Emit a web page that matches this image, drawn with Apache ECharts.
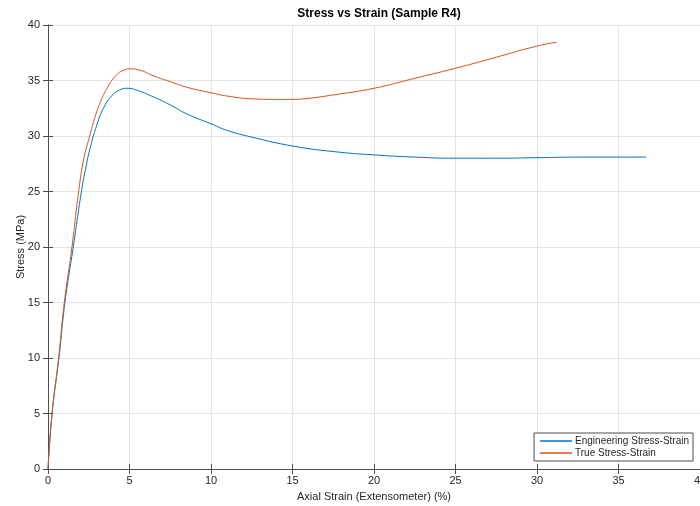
<!DOCTYPE html>
<html>
<head>
<meta charset="utf-8">
<script src="https://cdn.jsdelivr.net/npm/echarts@6/dist/echarts.min.js"></script>
<style>
  html, body { margin: 0; padding: 0; background: #fff; }
  #chart { width: 700px; height: 506px; }
</style>
</head>
<body>
<div id="chart"></div>
<script>
// Engineering stress-strain
const engStrain = [0, 0.25, 0.67, 1.04, 1.55, 2.05, 2.3, 2.6, 3.0, 3.4, 3.9, 4.4, 4.85, 5.5, 6.5, 7.5, 8.5, 10, 11, 12.5, 15, 17.5, 20, 22.5, 25, 27.5, 30, 33, 36.7];
const engStress = [0, 5, 10, 15, 20, 25, 27, 29, 31, 32.5, 33.6, 34.15, 34.3, 34.1, 33.5, 32.8, 32.0, 31.1, 30.5, 29.9, 29.1, 28.6, 28.3, 28.1, 28.0, 28.0, 28.05, 28.1, 28.1];

// True stress-strain
const trueStrain = [0, 0.25, 0.65, 1.0, 1.47, 1.88, 2.2, 2.56, 2.8, 3.2, 3.7, 4.2, 4.6, 5.0, 5.7, 6.5, 7.5, 8.5, 10, 11, 12.5, 14, 15, 16, 17.5, 20, 22.5, 25, 27.5, 30, 31.2];
const trueStress = [0, 5, 10, 15, 20, 25, 28, 30, 31.3, 33.0, 34.5, 35.5, 35.9, 36.05, 35.9, 35.4, 34.9, 34.4, 33.9, 33.6, 33.35, 33.3, 33.3, 33.4, 33.7, 34.3, 35.2, 36.1, 37.1, 38.1, 38.45];

const seriesNames = ['Engineering Stress-Strain', 'True Stress-Strain'];

const zip = (xs, ys) => xs.map((x, i) => [x, ys[i]]);

const chart = echarts.init(document.getElementById('chart'));

const axisColor = '#4d4d4d';
const textColor = '#262626';
const fontFamily = 'Liberation Sans, Arial, sans-serif';

const boxAxis = {
  min: 0,
  max: 40,
  interval: 5,
  axisLine: { show: true, lineStyle: { color: axisColor, width: 1 } },
  axisTick: { show: true, inside: true, length: 5, lineStyle: { color: axisColor } },
  axisLabel: { show: false },
  splitLine: { show: false }
};

const option = {
  backgroundColor: '#fff',
  animation: false,
  title: {
    text: 'Stress vs Strain (Sample R4)',
    left: 374,
    textAlign: 'center',
    top: 3,
    textStyle: { fontFamily, fontSize: 12, fontWeight: 'bold', color: '#000' }
  },
  grid: { left: 48, right: 0, top: 25, bottom: 37, containLabel: false, outerBoundsMode: 'none' },
  legend: {
    data: seriesNames.map(n => ({ name: n, icon: 'rect' })),
    orient: 'vertical',
    right: 7,
    bottom: 45,
    backgroundColor: '#fff',
    borderColor: axisColor,
    borderWidth: 1,
    padding: [3, 4, 3, 6],
    itemWidth: 32,
    itemHeight: 1.5,
    itemGap: 2,
    textStyle: { fontFamily, fontSize: 10, color: textColor, padding: [0, 0, 0, -2] }
  },
  xAxis: [
    {
      type: 'value',
      min: 0,
      max: 40,
      interval: 5,
      name: 'Axial Strain (Extensometer) (%)',
      nameLocation: 'middle',
      nameGap: 22,
      nameMoveOverlap: false,
      nameTextStyle: { fontFamily, fontSize: 11, color: textColor },
      axisLine: { show: true, onZero: false, lineStyle: { color: axisColor, width: 1 } },
      axisTick: { show: true, inside: true, length: 5, lineStyle: { color: axisColor } },
      axisLabel: { fontFamily, fontSize: 11, color: textColor, margin: 6 },
      splitLine: { show: true, lineStyle: { color: '#e3e3e3', width: 1 } }
    },
    Object.assign({ type: 'value', position: 'top' }, boxAxis)
  ],
  yAxis: [
    {
      type: 'value',
      min: 0,
      max: 40,
      interval: 5,
      name: 'Stress (MPa)',
      nameLocation: 'middle',
      nameGap: 22,
      nameMoveOverlap: false,
      nameTextStyle: { fontFamily, fontSize: 11, color: textColor },
      axisLine: { show: true, onZero: false, lineStyle: { color: axisColor, width: 1 } },
      axisTick: { show: true, inside: true, length: 5, lineStyle: { color: axisColor } },
      axisLabel: { fontFamily, fontSize: 11, color: textColor, margin: 8 },
      splitLine: { show: true, lineStyle: { color: '#e3e3e3', width: 1 } }
    },
    Object.assign({ type: 'value', position: 'right' }, boxAxis)
  ],
  series: [
    {
      name: seriesNames[0],
      type: 'line',
      data: zip(engStrain, engStress),
      smooth: 0.5,
      symbol: 'none',
      lineStyle: { color: '#0072BD', width: 1 },
      itemStyle: { color: '#0072BD' }
    },
    {
      name: seriesNames[1],
      type: 'line',
      data: zip(trueStrain, trueStress),
      smooth: 0.5,
      symbol: 'none',
      lineStyle: { color: '#D95319', width: 1 },
      itemStyle: { color: '#D95319' }
    }
  ]
};

chart.setOption(option);
</script>
</body>
</html>
